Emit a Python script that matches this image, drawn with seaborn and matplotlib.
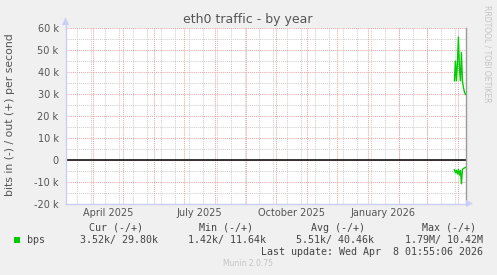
import matplotlib
matplotlib.use("Agg")
import matplotlib.pyplot as plt
import matplotlib.dates as mdates
from matplotlib.patches import Polygon, Rectangle
import numpy as np
import pandas as pd
import seaborn as sns

# ---------------- data ----------------
dates = ["2026-03-28 00:00", "2026-03-29 00:00", "2026-03-30 00:00", "2026-03-31 00:00",
         "2026-04-01 00:00", "2026-04-02 00:00", "2026-04-03 00:00", "2026-04-04 00:00",
         "2026-04-05 00:00", "2026-04-06 00:00", "2026-04-07 00:00", "2026-04-08 01:55"]
out_bps = [36000, 45000, 36000, 44000, 56000, 42000, 36000, 49000, 36000, 33000, 31000, 29800]
in_bps = [-4600, -6000, -4800, -6500, -4500, -7000, -5000, -11000, -4500, -4000, -3800, -3520]

y_ticks = [-20000, -10000, 0, 10000, 20000, 30000, 40000, 50000, 60000]
y_tick_labels = ["-20 k", "-10 k", "0", "10 k", "20 k", "30 k", "40 k", "50 k", "60 k"]
x_label_dates = ["2025-04-16", "2025-07-16", "2025-10-16", "2026-01-16"]
x_labels = ["April 2025", "July 2025", "October 2025", "January 2026"]

title = "eth0 traffic - by year"
y_title = "bits in (-) / out (+) per second"
legend_heads = ["Cur (-/+)", "Min (-/+)", "Avg (-/+)", "Max (-/+)"]
legend_vals = ["3.52k/ 29.80k", "1.42k/ 11.64k", "5.51k/ 40.46k", "1.79M/ 10.42M"]
last_update = "Last update: Wed Apr  8 01:55:06 2026"
end_time = "2026-04-08 01:55:06"

# ---------------- figure ----------------
W, H = 497, 275
BG = "#f0f0f0"
fig = plt.figure(figsize=(W / 100, H / 100), dpi=100, facecolor=BG)


def fx(px):
    return px / W


def fy(py):
    return (H - py) / H


left, right, top, bottom = 65.5, 465.5, 28.3, 203.5
ax = fig.add_axes([fx(left), fy(bottom), (right - left) / W, (bottom - top) / H])
ax.set_facecolor("white")

end = pd.Timestamp(end_time)
start = end - pd.Timedelta(days=400)
ax.set_xlim(start, end)
ax.set_ylim(-20000, 60000)

# grid lines
MGRID = "#e8a8a8"
GRID = "#cfcfcf"
dot = (0, (1, 1))
for v in range(-20000, 60001, 5000):
    if v % 10000 == 0:
        ax.axhline(v, color=MGRID, lw=0.75, ls=dot, zorder=1)
    else:
        ax.axhline(v, color=GRID, lw=0.75, ls=dot, zorder=0.9)

anchor = pd.Timestamp("2026-02-01")
d = anchor
while d > start:
    d -= pd.Timedelta(days=14)
d += pd.Timedelta(days=14)
while d < end:
    ax.axvline(d, color=GRID, lw=0.75, ls=dot, zorder=0.9)
    d += pd.Timedelta(days=14)
for m in pd.date_range("2025-04-01", "2026-04-01", freq="MS"):
    ax.axvline(m, color=MGRID, lw=0.75, ls=dot, zorder=1)

# zero line
ax.axhline(0, color="black", lw=1.1, zorder=2)

# data
df = pd.DataFrame({"date": pd.to_datetime(dates, format="%Y-%m-%d %H:%M"),
                   "out": out_bps, "in": in_bps})
sns.lineplot(data=df, x="date", y="out", ax=ax, color="#00cc00", lw=1.0, zorder=3)
sns.lineplot(data=df, x="date", y="in", ax=ax, color="#00cc00", lw=1.0, zorder=3)
ax.set_xlabel("")
ax.set_ylabel("")
ax.set_xlim(start, end)
ax.set_ylim(-20000, 60000)

# ticks
ax.set_yticks(y_ticks)
ax.set_yticklabels(y_tick_labels)
ax.set_xticks(pd.to_datetime(x_label_dates))
ax.set_xticklabels(x_labels)
ax.tick_params(axis="y", length=0, pad=5, labelsize=7, labelcolor="#555555")
ax.tick_params(axis="x", length=0, pad=3.5, labelsize=7, labelcolor="#555555")

# spines
AXIS = "#c8cef6"
ax.spines["top"].set_visible(False)
ax.spines["left"].set_color(AXIS)
ax.spines["bottom"].set_color(AXIS)
ax.spines["left"].set_linewidth(1)
ax.spines["bottom"].set_linewidth(1)
ax.spines["right"].set_color("#9a9a9a")
ax.spines["right"].set_linewidth(1)
ax.spines["left"].set_zorder(4)
ax.spines["bottom"].set_zorder(4)

# axis arrows
fig.add_artist(Polygon([(fx(left - 3.5), fy(25)), (fx(left + 3.5), fy(25)), (fx(left), fy(17))],
                       closed=True, transform=fig.transFigure, color=AXIS, lw=0))
fig.add_artist(Polygon([(fx(466), fy(bottom - 3.5)), (fx(466), fy(bottom + 3.5)), (fx(473), fy(bottom))],
                       closed=True, transform=fig.transFigure, color=AXIS, lw=0))
fig.add_artist(plt.Line2D([fx(left), fx(left)], [fy(top), fy(24)], transform=fig.transFigure,
                          color=AXIS, lw=1))
fig.add_artist(plt.Line2D([fx(right), fx(467)], [fy(bottom), fy(bottom)], transform=fig.transFigure,
                          color=AXIS, lw=1))

# texts
fig.text(fx(247.5), fy(19), title, ha="center", va="center", fontsize=9, color="#555555")
fig.text(fx(10), fy(115), y_title, ha="center", va="center", rotation=90, fontsize=7.8,
         color="#555555")
fig.text(fx(487.5), fy(5), "RRDTOOL / TOBI OETIKER", ha="center", va="top", rotation=270,
         fontsize=5.5, color="#c4c4c4")

mono = "DejaVu Sans Mono"
LEG = "#444444"
head_right = [143, 253, 365, 476]
val_right = [158, 266, 374, 483]
for h, xr in zip(legend_heads, head_right):
    fig.text(fx(xr), fy(228), h, ha="right", va="center", fontsize=7.2, family=mono, color=LEG)
for v, xr in zip(legend_vals, val_right):
    fig.text(fx(xr), fy(240), v, ha="right", va="center", fontsize=7.2, family=mono, color=LEG)
fig.text(fx(27), fy(240), "bps", ha="left", va="center", fontsize=7.2, family=mono, color=LEG)
fig.add_artist(Rectangle((fx(14), fy(242.5)), 5.5 / W, 5.5 / H, transform=fig.transFigure,
                         color="#00cc00", lw=0))
fig.text(fx(483), fy(252), last_update, ha="right", va="center", fontsize=7.2, family=mono,
         color=LEG)
fig.text(fx(248), fy(264), "Munin 2.0.75", ha="center", va="center", fontsize=5.5,
         color="#c4c4c4")

fig.savefig("out.png", dpi=100, facecolor=BG)
